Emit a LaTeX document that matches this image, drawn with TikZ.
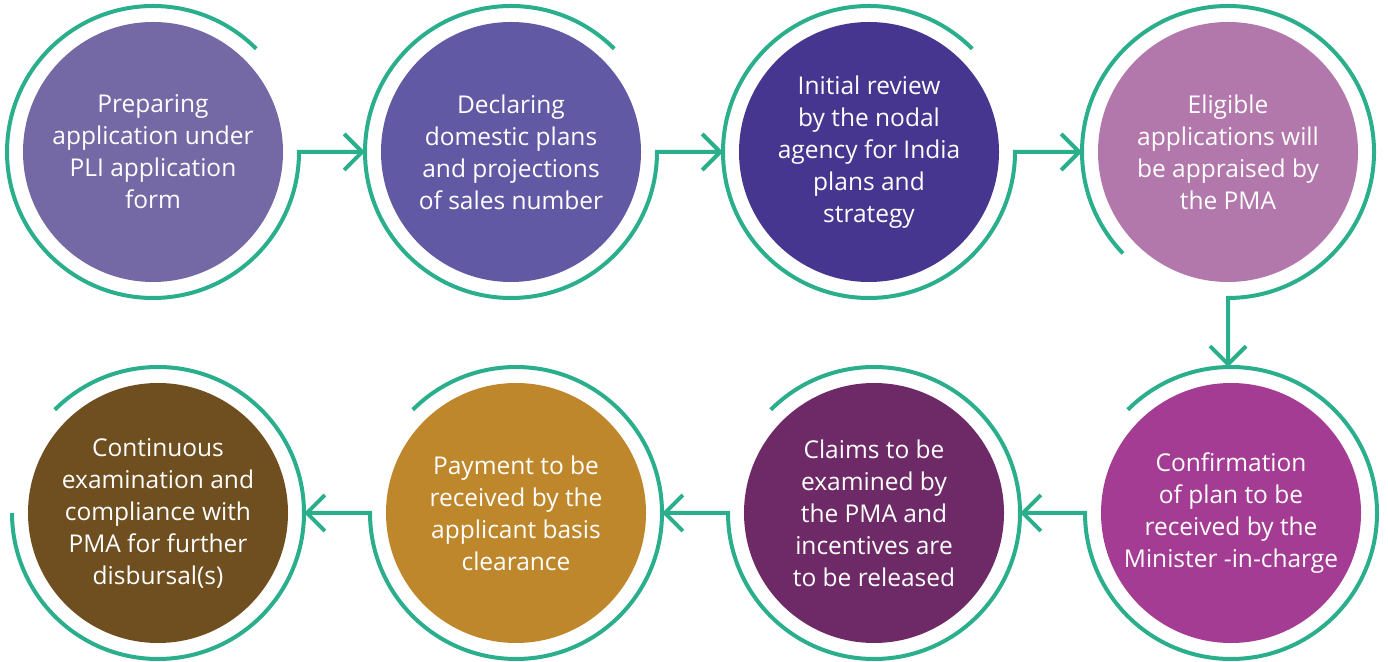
\documentclass[tikz,border=0pt]{standalone}
\usepackage{fontspec}
\setmainfont{Open Sans}
\usetikzlibrary{arrows.meta}
\definecolor{teal1}{HTML}{2AAE8B}
\definecolor{cA}{HTML}{7469A5}
\definecolor{cB}{HTML}{6259A5}
\definecolor{cC}{HTML}{46368F}
\definecolor{cD}{HTML}{B278AB}
\definecolor{cE}{HTML}{A33C92}
\definecolor{cF}{HTML}{6E2A66}
\definecolor{cG}{HTML}{BE872C}
\definecolor{cH}{HTML}{6F4F20}
\tikzset{
  disc/.style={circle, minimum size=260pt, inner sep=0pt, outer sep=0pt, text=white,
    font=\fontsize{24.5}{32}\selectfont, align=center},
  ringnode/.style={circle, minimum size=292pt, inner sep=0pt, outer sep=0pt},
  ringline/.style={draw=teal1, line width=4pt},
  flow/.style={ringline, -{Straight Barb[length=18pt, width=36pt]}},
}
\begin{document}
\begin{tikzpicture}[x=1pt,y=1pt]
\useasboundingbox (0,0) rectangle (1388,661);
% rings (invisible anchors)
\node[ringnode] (r1) at (153,509) {};
\node[ringnode] (r2) at (511,509) {};
\node[ringnode] (r3) at (869,509) {};
\node[ringnode] (r4) at (1228,509) {};
\node[ringnode] (r5) at (1231,148) {};
\node[ringnode] (r6) at (874,148) {};
\node[ringnode] (r7) at (516,148) {};
\node[ringnode] (r8) at (158,148) {};
% discs
\node[disc, fill=cA] (c1) at (r1) {Preparing\\application under\\PLI application\\form};
\node[disc, fill=cB] (c2) at (r2) {Declaring\\domestic plans\\and projections\\of sales number};
\node[disc, fill=cC] (c3) at (r3) {Initial review\\by the nodal\\agency for India\\plans and\\strategy};
\node[disc, fill=cD] (c4) at (r4) {Eligible\\applications will\\be appraised by\\the PMA};
\node[disc, fill=cE] (c5) at (r5) {Confirmation\\of plan to be\\received by the\\Minister -in-charge};
\node[disc, fill=cF] (c6) at (r6) {Claims to be\\examined by\\the PMA and\\incentives are\\to be released};
\node[disc, fill=cG] (c7) at (r7) {Payment to be\\received by the\\applicant basis\\clearance};
\node[disc, fill=cH] (c8) at (r8) {Continuous\\examination and\\compliance with\\PMA for further\\disbursal(s)};
% rings with connectors
\draw[flow] (r1.45) arc[start angle=45, end angle=360, radius=146pt] -- (r2.west);
\draw[flow] (r2.45) arc[start angle=45, end angle=360, radius=146pt] -- (r3.west);
\draw[flow] (r3.45) arc[start angle=45, end angle=360, radius=146pt] -- (r4.west);
\draw[flow] (r4.224) arc[start angle=224, end angle=-90, radius=146pt] -- (r4.south |- r5.north);
\draw[flow] (r5.135) arc[start angle=135, end angle=-180, radius=146pt] -- (r6.east);
\draw[flow] (r6.135) arc[start angle=135, end angle=-180, radius=146pt] -- (r7.east);
\draw[flow] (r7.135) arc[start angle=135, end angle=-180, radius=146pt] -- (r8.east);
\draw[ringline] (r8.135) arc[start angle=135, end angle=-180, radius=146pt];
\end{tikzpicture}
\end{document}
